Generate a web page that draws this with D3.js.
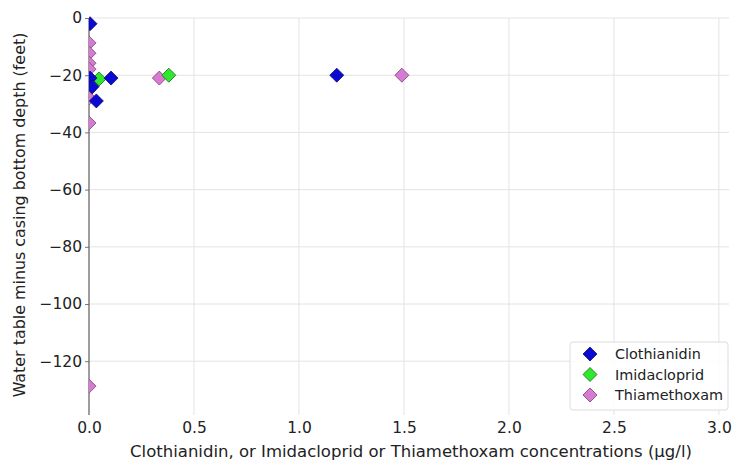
<!DOCTYPE html>
<html>
<head>
<meta charset="utf-8">
<script src="https://cdn.jsdelivr.net/npm/d3@7"></script>
<style>
  html, body { margin: 0; padding: 0; background: #fff; }
  svg { display: block; font-family: "DejaVu Sans", sans-serif; }
</style>
</head>
<body>
<svg id="chart" width="733" height="461"></svg>
<script>
// Concentrations (µg/l) against water table minus casing bottom depth (feet)
const clothX = [0.005, 0.005, 0.015, 0.035, 0.105, 1.18];
const clothY = [-2, -21, -24, -29, -21, -20];
const imidaX = [0.048, 0.38];
const imidaY = [-21.3, -20];
const thiaX = [0, 0, 0, 0, 0, 0, 0, 0, 0, 0.335, 1.49];
const thiaY = [-8.7, -12.3, -15.8, -17.9, -22.4, -25.2, -28, -36.7, -128.7, -21, -20];

const xTicks = [0, 0.5, 1.0, 1.5, 2.0, 2.5, 3.0];
const yTicks = [0, -20, -40, -60, -80, -100, -120];

const seriesNames = ["Clothianidin", "Imidacloprid", "Thiamethoxam"];
const seriesColors = ["#0a0ad2", "#2ee82e", "#d77bd2"];
const seriesEdges = ["#10106a", "#1a6a1a", "#7a3f78"];

const svg = d3.select("#chart");
const plotL = 89, plotR = 729, plotT = 18, plotB = 415;

const x = d3.scaleLinear().domain([0, 3.048]).range([plotL, plotR]);
const y = d3.scaleLinear().domain([-138.8, 0]).range([plotB, plotT]);

// grid
const grid = svg.append("g");
grid.selectAll(".gx").data(xTicks).join("line")
  .attr("x1", d => x(d)).attr("x2", d => x(d))
  .attr("y1", plotT).attr("y2", plotB)
  .attr("stroke", "#e3e3e3").attr("stroke-width", 1);
grid.selectAll(".gy").data(yTicks).join("line")
  .attr("x1", plotL).attr("x2", plotR)
  .attr("y1", d => y(d)).attr("y2", d => y(d))
  .attr("stroke", "#e3e3e3").attr("stroke-width", 1);

// axes
const xAxis = d3.axisBottom(x).tickValues(xTicks).tickFormat(d3.format(".1f")).tickSize(0).tickPadding(7);
const gx = svg.append("g").attr("transform", `translate(0,${plotB})`).call(xAxis);
gx.select(".domain").remove();
gx.selectAll("text").attr("font-size", 15.5).attr("fill", "#222").attr("font-family", "DejaVu Sans");

const yAxis = d3.axisLeft(y).tickValues(yTicks).tickFormat(d => d < 0 ? "\u2212" + Math.abs(d) : String(d)).tickSize(4).tickPadding(3);
const gy = svg.append("g").attr("transform", `translate(${plotL},0)`).call(yAxis);
gy.select(".domain").remove();
gy.selectAll(".tick line").attr("stroke", "#777");
gy.selectAll("text").attr("font-size", 15.5).attr("fill", "#222").attr("font-family", "DejaVu Sans");

svg.append("line")
  .attr("x1", plotL).attr("x2", plotL).attr("y1", plotT).attr("y2", plotB)
  .attr("stroke", "#666").attr("stroke-width", 1.2);

// markers, clipped to the plot area
svg.append("clipPath").attr("id", "plotclip")
  .append("rect").attr("x", plotL).attr("y", plotT - 8).attr("width", plotR - plotL).attr("height", plotB - plotT + 8);

const diamond = "M0,-7L7,0L0,7L-7,0Z";
const marks = svg.append("g").attr("clip-path", "url(#plotclip)");
const series = [
  { xs: thiaX, ys: thiaY, i: 2 },
  { xs: imidaX, ys: imidaY, i: 1 },
  { xs: clothX, ys: clothY, i: 0 }
];
series.forEach(s => {
  marks.append("g").selectAll("path")
    .data(s.xs.map((v, k) => [v, s.ys[k]]))
    .join("path")
    .attr("d", diamond)
    .attr("transform", d => `translate(${x(d[0])},${y(d[1])})`)
    .attr("fill", seriesColors[s.i])
    .attr("stroke", seriesEdges[s.i])
    .attr("stroke-width", 0.8);
});

// legend
const lg = svg.append("g").attr("transform", "translate(570,342)");
lg.append("rect").attr("width", 158).attr("height", 68).attr("rx", 3)
  .attr("fill", "#fff").attr("fill-opacity", 0.85).attr("stroke", "#ddd");
seriesNames.forEach((name, i) => {
  const row = lg.append("g").attr("transform", `translate(20,${12 + i * 20.5})`);
  row.append("path").attr("d", diamond)
    .attr("fill", seriesColors[i]).attr("stroke", seriesEdges[i]).attr("stroke-width", 0.8);
  row.append("text").attr("x", 25).attr("y", 5).attr("font-size", 14.4).attr("fill", "#222").text(name);
});

// axis titles
svg.append("text").attr("x", 411).attr("y", 457).attr("text-anchor", "middle")
  .attr("font-size", 16.5).attr("fill", "#222")
  .text("Clothianidin, or Imidacloprid or Thiamethoxam concentrations (\u00b5g/l)");
svg.append("text").attr("transform", "translate(25,215) rotate(-90)").attr("text-anchor", "middle")
  .attr("font-size", 15.9).attr("fill", "#222")
  .text("Water table minus casing bottom depth (feet)");
</script>
</body>
</html>
